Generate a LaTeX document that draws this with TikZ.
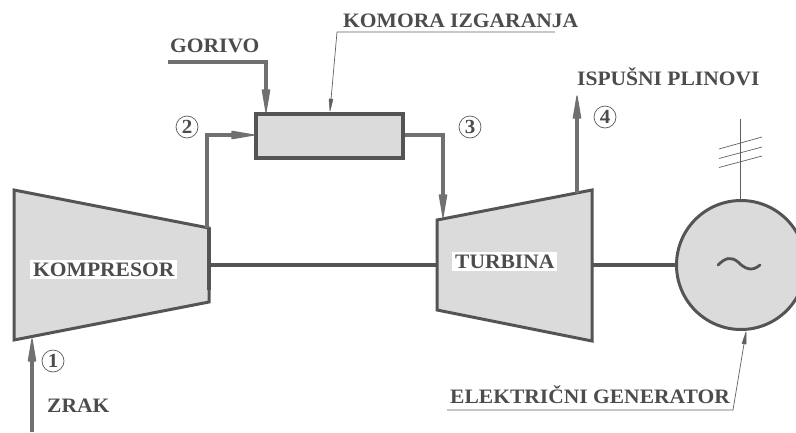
\documentclass[tikz,border=0pt]{standalone}
\usepackage{fontspec}
\setmainfont[FakeStretch=1.05]{Liberation Serif}
\definecolor{fillg}{gray}{0.86}
\definecolor{edgeg}{gray}{0.33}
\definecolor{pipeg}{gray}{0.44}
\definecolor{textg}{gray}{0.30}
\tikzset{
  x=1pt,y=-1pt,
  part/.style={draw=edgeg,fill=fillg,line width=3pt,line join=miter},
  shaft/.style={draw=edgeg,line width=3.5pt},
  pipe/.style={draw=pipeg,line width=4pt,shorten >=19pt},
  pipehead/.style={fill=pipeg,draw=pipeg,line width=1.2pt,line join=round},
  thin leader/.style={draw=gray!75!black,line width=0.7pt},
  leadertip/.style={thin leader,shorten >=10pt},
  leaderhead/.style={fill=gray!75!black,draw=gray!75!black,line width=0.5pt,line join=round},
  lab/.style={font=\fontsize{20.5}{20.5}\selectfont\bfseries,text=textg,inner sep=0pt,anchor=base west},
  boxlab/.style={lab,fill=white,inner xsep=3pt,inner ysep=2.5pt},
  num/.style={draw=gray!70!black,circle,line width=0.7pt,minimum size=22pt,inner sep=0pt,text=textg,font=\fontsize{20}{20}\selectfont\bfseries},
}
\begin{document}
\begin{tikzpicture}
\useasboundingbox (0,0) rectangle (796,432);
% shafts first
\coordinate (kR) at (209,265);
\coordinate (tL) at (437,265);
\coordinate (tR) at (592,265);
\coordinate (gL) at (675,265);
\draw[shaft] (kR) -- (tL);
\draw[shaft] (tR) -- (gL);
% compressor
\draw[part] (14,190) -- (209,228) -- (209,302) -- (14,340) -- cycle;
\draw[edgeg,line width=4.5pt] (209,228) -- (209,290);
% turbine
\draw[part] (437,220) -- (592,190) -- (592,341) -- (437,310) -- cycle;
% combustion chamber
\node[part,line width=4pt,minimum width=147pt,minimum height=44pt,inner sep=0pt] (cc) at (329.5,135.5) {};
% generator
\node[part,circle,minimum size=129pt,inner sep=0pt] (gen) at (741,265) {};
\draw[edgeg,line width=2.8pt,line cap=round] (718,265) .. controls (725,258) and (731,256) .. (738,262) .. controls (745,269) and (752,272) .. (760,265);
% pipes
\coordinate (gs) at (168,62);
\coordinate (gc) at (266,62);
\coordinate (gt) at (266,112);
\draw[pipe] (gs) -- (gc) -- (gt);
\fill[pipehead] (gt) -- ++(-3.7,-22) -- ++(7.4,0) -- cycle;
\coordinate (s2) at (206.5,228);
\coordinate (c2) at (206.5,135);
\coordinate (t2) at (254,135);
\draw[pipe] (s2) -- (c2) -- (t2);
\fill[pipehead] (t2) -- ++(-22,-3.7) -- ++(0,7.4) -- cycle;
\coordinate (c3) at (443,135);
\coordinate (t3) at (443,217);
\draw[pipe] (cc.east |- c3) -- (c3) -- (t3);
\fill[pipehead] (t3) -- ++(-3.7,-22) -- ++(7.4,0) -- cycle;
\coordinate (s4) at (577,193);
\coordinate (t4) at (577,96);
\draw[pipe] (s4) -- (t4);
\fill[pipehead] (t4) -- ++(-3.7,22) -- ++(7.4,0) -- cycle;
\coordinate (s1) at (32,432);
\coordinate (t1) at (32,339);
\draw[pipe] (s1) -- (t1);
\fill[pipehead] (t1) -- ++(-3.7,22) -- ++(7.4,0) -- cycle;
% antenna
\coordinate (a1) at (740,119);
\draw[thin leader,line width=0.9pt] (a1) -- (gen.north -| a1);
\coordinate (h1a) at (719,149);\coordinate (h1b) at (762,137);
\coordinate (h2a) at (719,158.5);\coordinate (h2b) at (762,147);
\coordinate (h3a) at (719,167.5);\coordinate (h3b) at (762,156);
\draw[thin leader] (h1a) -- (h1b);
\draw[thin leader] (h2a) -- (h2b);
\draw[thin leader] (h3a) -- (h3b);
% leaders
\coordinate (k1) at (555,32);\coordinate (k2) at (337,32);\coordinate (k3) at (330,111);
\draw[leadertip] (k1) -- (k2) -- (k3);
\fill[leaderhead] (k3) -- (333,99.2) -- (329,98.8) -- cycle;
\coordinate (e1) at (447,410);\coordinate (e2) at (733,410);\coordinate (e3) at (746,332);
\draw[leadertip] (e1) -- (e2) -- (e3);
\fill[leaderhead] (e3) -- (746,344.1) -- (742,343.5) -- cycle;
% labels
\node[lab] (lk) at (343,27) {KOMORA IZGARANJA};
\node[lab] (lg) at (170,52) {GORIVO};
\node[lab] (li) at (577,85) {ISPUŠNI PLINOVI};
\node[lab] (lz) at (47,412) {ZRAK};
\node[lab] (le) at (450,403) {ELEKTRIČNI GENERATOR};
\node[boxlab] (lc) at (30,276) {KOMPRESOR};
\node[boxlab] (lt) at (452,268) {TURBINA};
\node[num] (n1) at (53,361) {1};
\node[num] (n2) at (187,127) {2};
\node[num] (n3) at (470,127) {3};
\node[num] (n4) at (605,117) {4};
\end{tikzpicture}
\end{document}
